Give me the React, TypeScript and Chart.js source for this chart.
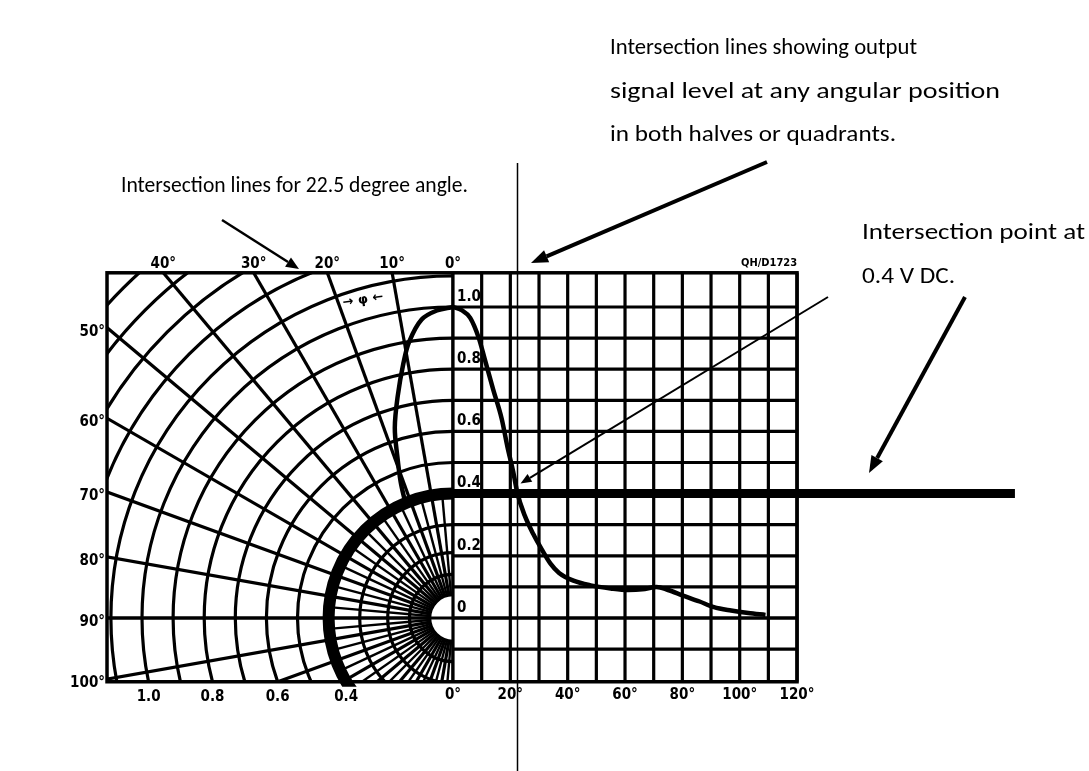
import React, { useEffect, useRef } from 'react';
import { Chart, registerables } from 'chart.js';

Chart.register(...registerables);

const W = 1089;
const H = 771;

// Normalised output signal against rotation angle (degrees)
const ANGLE_DEG = [0, 3, 6, 9, 11, 14, 17, 19, 21, 22.5, 25, 28, 31, 34, 37, 42, 48, 55, 61, 66, 71, 75, 80, 86, 91, 97, 103, 109];
const OUTPUT = [1.0, 0.99, 0.965, 0.9, 0.835, 0.735, 0.64, 0.55, 0.47, 0.4, 0.33, 0.27, 0.22, 0.175, 0.145, 0.12, 0.105, 0.095, 0.09, 0.092, 0.1, 0.09, 0.073, 0.053, 0.035, 0.024, 0.016, 0.01];

// The polar half repeats the response up to the marked angle
const POLAR_CURVE_MAX_DEG = 22.5;

// Marked operating point
const MARK_ANGLE = 22.5;
const MARK_LEVEL = 0.4;
const LEVEL_LINE_END_DEG = 196;

// Polar grid
const POLAR_SPOKES_DEG = [0, 10, 20, 30, 40, 50, 60, 70, 80, 90, 100, 110, 120, 130, 140, 150, 160, 170, 180];
const POLAR_FINE_SPOKES_DEG = [5, 15, 25, 35, 45, 55, 65, 75, 85, 95, 105, 115, 125, 135, 145, 155, 165, 175];
const FINE_SPOKE_END = 0.4;
const POLAR_RINGS = [0.075, 0.14, 0.21, 0.3, 0.4, 0.5, 0.6, 0.7, 0.8, 0.9, 1.0, 1.1, 1.2, 1.3, 1.4, 1.5, 1.6];
const POLAR_TOP_ANGLES = [40, 30, 20, 10, 0];
const POLAR_TOP_LABELS = ['40°', '30°', '20°', '10°', '0°'];
const POLAR_SIDE_ANGLES = [50, 60, 70, 80, 90, 100];
const POLAR_SIDE_LABELS = ['50°', '60°', '70°', '80°', '90°', '100°'];
const RADIUS_VALUES = [1.0, 0.8, 0.6, 0.4];
const RADIUS_LABELS = ['1.0', '0.8', '0.6', '0.4'];

// Cartesian grid
const GRID_DEG = [10, 20, 30, 40, 50, 60, 70, 80, 90, 100, 110, 120];
const GRID_LEVELS = [-0.1, 0, 0.1, 0.2, 0.3, 0.4, 0.5, 0.6, 0.7, 0.8, 0.9, 1.0];
const ANGLE_TICKS = [0, 20, 40, 60, 80, 100, 120];
const ANGLE_TICK_LABELS = ['0°', '20°', '40°', '60°', '80°', '100°', '120°'];
const LEVEL_TICKS = [1.0, 0.8, 0.6, 0.4, 0.2, 0];
const LEVEL_TICK_LABELS = ['1.0', '0.8', '0.6', '0.4', '0.2', '0'];
const DRAWING_CODE = 'QH/D1723';

// Frame of the diagram (polar units / degrees)
const FRAME_LEFT = -1.1125;
const FRAME_RIGHT_DEG = 120;
const FRAME_TOP = 1.11;
const FRAME_BOTTOM = -0.205;

// Page placement of the diagram origin
const ORIGIN_X = 453;
const ORIGIN_Y = 618;
const PX_PER_UNIT = 311;
const PX_PER_DEG = 2.867;

const INK = '#000000';
const LABEL_FONT = 'bold 15px "DejaVu Sans Condensed", "DejaVu Sans", sans-serif';
const NOTE_FONT = '23px Carlito, Calibri, Lato, "Open Sans", sans-serif';

const NOTES = [
  { text: 'Intersection lines showing output', x: 610, y: 48, w: 307 },
  { text: 'signal level at any angular position', x: 610, y: 92, w: 390 },
  { text: 'in both halves or quadrants.', x: 610, y: 135, w: 286 },
  { text: 'Intersection lines for 22.5 degree angle.', x: 121, y: 186, w: 347 },
  { text: 'Intersection point at', x: 862, y: 233, w: 223 },
  { text: '0.4 V DC.', x: 862, y: 277, w: 93 },
];

const rad = (d: number) => (d * Math.PI) / 180;

function polarPx(chart: any, r: number, deg: number) {
  const t = rad(deg);
  return {
    x: chart.scales.x.getPixelForValue(-r * Math.sin(t)),
    y: chart.scales.y.getPixelForValue(r * Math.cos(t)),
  };
}

function seg(ctx: CanvasRenderingContext2D, x1: number, y1: number, x2: number, y2: number) {
  ctx.beginPath();
  ctx.moveTo(x1, y1);
  ctx.lineTo(x2, y2);
  ctx.stroke();
}

function arrow(ctx: CanvasRenderingContext2D, x1: number, y1: number, x2: number, y2: number, lw: number, len: number, wid: number) {
  const a = Math.atan2(y2 - y1, x2 - x1);
  const bx = x2 - len * Math.cos(a);
  const by = y2 - len * Math.sin(a);
  ctx.lineWidth = lw;
  seg(ctx, x1, y1, bx, by);
  const nx = -Math.sin(a) * wid / 2;
  const ny = Math.cos(a) * wid / 2;
  ctx.beginPath();
  ctx.moveTo(x2, y2);
  ctx.lineTo(bx + nx, by + ny);
  ctx.lineTo(bx - nx, by - ny);
  ctx.closePath();
  ctx.fill();
}

function fitText(ctx: CanvasRenderingContext2D, text: string, x: number, y: number, width: number) {
  const w = ctx.measureText(text).width;
  ctx.save();
  ctx.translate(x, y);
  ctx.scale(width / w, 1);
  ctx.fillText(text, 0, 0);
  ctx.restore();
}

const diagramPlugin = {
  id: 'diagram',
  beforeDraw(chart: any) {
    const { ctx } = chart;
    ctx.save();
    ctx.fillStyle = '#ffffff';
    ctx.fillRect(0, 0, chart.width, chart.height);
    ctx.restore();
  },
  beforeDatasetsDraw(chart: any) {
    const { ctx } = chart;
    const xr = chart.scales.x;
    const xd = chart.scales.xd;
    const y = chart.scales.y;
    const left = xr.getPixelForValue(FRAME_LEFT);
    const cx = xr.getPixelForValue(0);
    const cy = y.getPixelForValue(0);
    const right = xd.getPixelForValue(FRAME_RIGHT_DEG);
    const top = y.getPixelForValue(FRAME_TOP);
    const bottom = y.getPixelForValue(FRAME_BOTTOM);
    const unit = cy - y.getPixelForValue(1);

    ctx.save();
    ctx.strokeStyle = INK;
    ctx.fillStyle = INK;
    ctx.lineCap = 'butt';

    // polar half
    ctx.save();
    ctx.beginPath();
    ctx.rect(left, top, cx - left + 1, bottom - top);
    ctx.clip();
    ctx.lineWidth = 3.2;
    for (const r of POLAR_RINGS) {
      ctx.beginPath();
      ctx.arc(cx, cy, r * unit, -Math.PI / 2, Math.PI / 2, true);
      ctx.stroke();
    }
    const r0 = POLAR_RINGS[0];
    for (const a of POLAR_SPOKES_DEG) {
      const p = polarPx(chart, r0, a);
      const q = polarPx(chart, 3, a);
      seg(ctx, p.x, p.y, q.x, q.y);
    }
    ctx.lineWidth = 2.4;
    for (const a of POLAR_FINE_SPOKES_DEG) {
      const p = polarPx(chart, r0, a);
      const q = polarPx(chart, FINE_SPOKE_END, a);
      seg(ctx, p.x, p.y, q.x, q.y);
    }
    ctx.restore();

    // cartesian half
    ctx.lineWidth = 3.2;
    for (const d of GRID_DEG) {
      const x = xd.getPixelForValue(d);
      seg(ctx, x, top, x, bottom);
    }
    for (const v of GRID_LEVELS) {
      const yy = y.getPixelForValue(v);
      seg(ctx, cx, yy, right, yy);
    }
    seg(ctx, cx, top, cx, bottom);
    seg(ctx, left, cy, right, cy);

    // frame
    ctx.lineWidth = 3.5;
    ctx.strokeRect(left, top, right - left, bottom - top);
    ctx.restore();
  },
  afterDatasetsDraw(chart: any) {
    const { ctx } = chart;
    const xr = chart.scales.x;
    const xd = chart.scales.xd;
    const y = chart.scales.y;
    const left = xr.getPixelForValue(FRAME_LEFT);
    const cx = xr.getPixelForValue(0);
    const cy = y.getPixelForValue(0);
    const right = xd.getPixelForValue(FRAME_RIGHT_DEG);
    const top = y.getPixelForValue(FRAME_TOP);
    const bottom = y.getPixelForValue(FRAME_BOTTOM);
    const unit = cy - y.getPixelForValue(1);

    ctx.save();
    ctx.strokeStyle = INK;
    ctx.fillStyle = INK;

    // level intersection: arc in the polar half, straight line in the cartesian half
    ctx.save();
    ctx.beginPath();
    ctx.rect(left, top, cx - left + 1, bottom - top + 5);
    ctx.clip();
    ctx.lineWidth = 12;
    ctx.beginPath();
    ctx.arc(cx, cy, MARK_LEVEL * unit, -Math.PI / 2, Math.PI / 2, true);
    ctx.stroke();
    ctx.restore();
    const yl = y.getPixelForValue(MARK_LEVEL);
    ctx.lineWidth = 9;
    seg(ctx, cx - 1, yl, xd.getPixelForValue(LEVEL_LINE_END_DEG), yl);

    // angle intersection line
    const xm = xd.getPixelForValue(MARK_ANGLE);
    ctx.lineWidth = 1.5;
    seg(ctx, xm, 163, xm, H);

    // scale labels
    ctx.font = LABEL_FONT;
    ctx.textBaseline = 'middle';
    ctx.textAlign = 'center';
    POLAR_TOP_ANGLES.forEach((a, i) => {
      const x = xr.getPixelForValue(-FRAME_TOP * Math.tan(rad(a)));
      ctx.fillText(POLAR_TOP_LABELS[i], x, top - 9);
    });
    RADIUS_VALUES.forEach((r, i) => {
      const u = -Math.sqrt(r * r - FRAME_BOTTOM * FRAME_BOTTOM);
      ctx.fillText(RADIUS_LABELS[i], xr.getPixelForValue(u), bottom + 15);
    });
    ANGLE_TICKS.forEach((d, i) => {
      ctx.fillText(ANGLE_TICK_LABELS[i], xd.getPixelForValue(d), bottom + 13);
    });
    ctx.textAlign = 'right';
    POLAR_SIDE_ANGLES.forEach((a, i) => {
      const v = -FRAME_LEFT * Math.cos(rad(a)) / Math.sin(rad(a));
      ctx.fillText(POLAR_SIDE_LABELS[i], left - 2, y.getPixelForValue(v) + 4);
    });
    ctx.textAlign = 'left';
    LEVEL_TICKS.forEach((v, i) => {
      ctx.fillText(LEVEL_TICK_LABELS[i], cx + 4, y.getPixelForValue(v) - 10);
    });
    ctx.font = 'bold 11px "DejaVu Sans Condensed", "DejaVu Sans", sans-serif';
    ctx.textAlign = 'right';
    ctx.fillText(DRAWING_CODE, right, top - 10);

    // rotation sense marker
    ctx.save();
    ctx.translate(363, 300);
    ctx.rotate(rad(-9));
    ctx.font = 'bold 13px "DejaVu Sans", sans-serif';
    ctx.textAlign = 'center';
    ctx.fillText('→ φ ←', 0, 0);
    ctx.restore();

    // callouts
    arrow(ctx, 222, 220, 299, 269, 2.5, 13, 11);
    arrow(ctx, 767, 162, 531, 263, 4, 17, 13);
    arrow(ctx, 828, 297, xm + 3, yl - 10, 2, 11, 9);
    arrow(ctx, 965, 297, 869, 473, 4, 17, 13);

    ctx.font = NOTE_FONT;
    ctx.textAlign = 'left';
    ctx.textBaseline = 'middle';
    ctx.fillStyle = '#000000';
    for (const n of NOTES) fitText(ctx, n.text, n.x, n.y, n.w);
    ctx.restore();
  },
};

export default function App() {
  const ref = useRef<HTMLCanvasElement | null>(null);

  useEffect(() => {
    if (!ref.current) return;
    const cartesian = ANGLE_DEG.map((a, i) => ({ x: a, y: OUTPUT[i] }));
    const polar = ANGLE_DEG.map((a, i) => ({ a, v: OUTPUT[i] }))
      .filter((p) => p.a <= POLAR_CURVE_MAX_DEG)
      .map((p) => ({ x: -p.v * Math.sin(rad(p.a)), y: p.v * Math.cos(rad(p.a)) }));

    const chart = new Chart(ref.current, {
      type: 'scatter',
      data: {
        datasets: [
          {
            label: 'Output (cartesian)',
            data: cartesian,
            xAxisID: 'xd',
            yAxisID: 'y',
            showLine: true,
            borderColor: INK,
            borderWidth: 4.5,
            pointRadius: 0,
            cubicInterpolationMode: 'monotone',
          },
          {
            label: 'Output (polar)',
            data: polar,
            xAxisID: 'x',
            yAxisID: 'y',
            showLine: true,
            borderColor: INK,
            borderWidth: 4.5,
            pointRadius: 0,
            tension: 0.35,
          },
        ],
      },
      options: {
        responsive: false,
        animation: false,
        devicePixelRatio: 1,
        layout: { padding: 0 },
        plugins: { legend: { display: false }, tooltip: { enabled: false } },
        events: [],
        scales: {
          x: {
            type: 'linear',
            display: false,
            min: -ORIGIN_X / PX_PER_UNIT,
            max: (W - ORIGIN_X) / PX_PER_UNIT,
          },
          xd: {
            type: 'linear',
            axis: 'x',
            display: false,
            min: -ORIGIN_X / PX_PER_DEG,
            max: (W - ORIGIN_X) / PX_PER_DEG,
          },
          y: {
            type: 'linear',
            display: false,
            min: -(H - ORIGIN_Y) / PX_PER_UNIT,
            max: ORIGIN_Y / PX_PER_UNIT,
          },
        },
      },
      plugins: [diagramPlugin],
    } as any);
    return () => chart.destroy();
  }, []);

  return (
    <div style={{ position: 'fixed', left: 0, top: 0, width: W, height: H, background: '#fff' }}>
      <canvas ref={ref} width={W} height={H} style={{ display: 'block' }} />
    </div>
  );
}
